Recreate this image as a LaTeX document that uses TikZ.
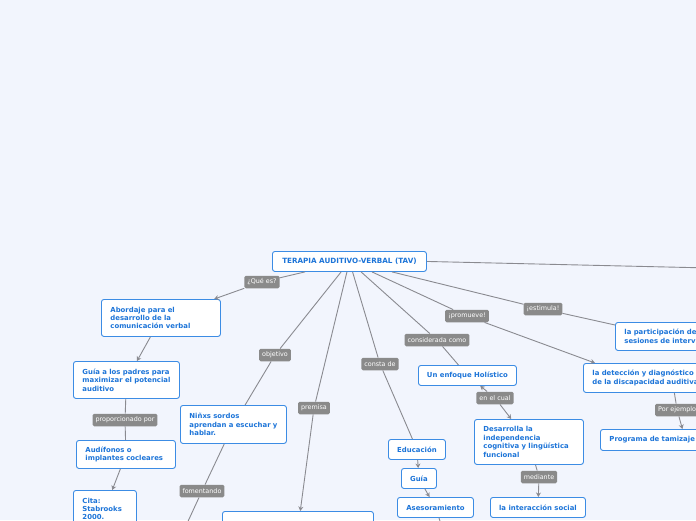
\documentclass[tikz,border=0pt]{standalone}
\usepackage{fontspec}
\usetikzlibrary{arrows.meta}
\newfontfamily\dvs{DejaVu Sans}
\definecolor{bgc}{RGB}{242,245,253}
\definecolor{nodeb}{RGB}{60,140,228}
\definecolor{nodet}{RGB}{28,116,216}
\definecolor{labg}{RGB}{138,138,138}
\definecolor{lineg}{RGB}{138,138,144}
\newcommand\nodefont{\dvs\bfseries\fontsize{6.9}{8.4}\selectfont\hyphenpenalty=10000\exhyphenpenalty=10000}
\newcommand\labfont{\dvs\fontsize{6.4}{7.5}\selectfont}
\tikzset{
  box/.style={draw=nodeb, fill=white, rounded corners=2.5pt, line width=0.9pt, text=nodet, font=\nodefont, anchor=north west, inner sep=0pt},
  lbox/.style={box, align=left},
  cbox/.style={box, align=center},
  lab/.style={fill=labg, text=white, rounded corners=1.5pt, font=\labfont, inner xsep=3pt, inner ysep=0pt, minimum height=12.5pt},
  con/.style={draw=lineg, line width=0.9pt},
  arr/.style={con, -{Stealth[length=4.5pt,width=5pt]}},
}
\begin{document}
\begin{tikzpicture}[x=1pt,y=-1pt]
\path[use as bounding box, fill=bgc] (0,0) rectangle (696,520);
\clip (0,0) rectangle (696,520);

% main boxes
\node[cbox, minimum width=154pt, minimum height=20pt, font=\dvs\bfseries\fontsize{7.2}{8.4}\selectfont] (tav) at (272,251) {TERAPIA AUDITIVO-VERBAL (TAV)};
\node[lbox, minimum width=119pt, minimum height=37pt, text width=101pt] (abord) at (101,299) {\mbox{Abordaje para el}\\\mbox{desarrollo de la}\\\mbox{comunicación verbal}};
\node[lbox, minimum width=106pt, minimum height=37pt, text width=88pt] (padres) at (73,361) {\mbox{Guía a los padres para}\\\mbox{maximizar el potencial}\\auditivo};
\node[lbox, minimum width=99pt, minimum height=28pt, text width=81pt] (audif) at (76,440) {\mbox{Audífonos o}\\\mbox{implantes cocleares}};
\node[lbox, minimum width=63pt, minimum height=37pt, text width=45pt] (cita) at (73,490) {Cita:\\Stabrooks\\2000.};
\node[lbox, minimum width=106pt, minimum height=38pt, text width=88pt] (ninxs) at (180,405) {\mbox{Niñxs sordos}\\\mbox{aprendan a escuchar y}\\hablar.};
\node[box, minimum width=151pt, minimum height=34pt] (prem) at (222,511) {};
\node[cbox, minimum width=57pt, minimum height=20pt] (edu) at (388,439) {Educación};
\node[cbox, minimum width=35pt, minimum height=20pt] (guia) at (401,468) {Guía};
\node[cbox, minimum width=76pt, minimum height=20pt] (ases) at (397,497) {Asesoramiento};
\node[cbox, minimum width=98pt, minimum height=20pt] (hol) at (418,365) {Un enfoque Holístico};
\node[lbox, minimum width=109pt, minimum height=45pt, text width=91pt] (des) at (474,419) {\mbox{Desarrolla la}\\independencia\\\mbox{cognitiva y lingüística}\\funcional};
\node[cbox, minimum width=95pt, minimum height=20pt] (inter) at (490,497) {la interacción social};
\node[lbox, minimum width=170pt, minimum height=28pt, text width=152pt] (part) at (615,322) {\mbox{la participación de}\\\mbox{sesiones de interv}};
\node[lbox, minimum width=177pt, minimum height=29pt, text width=159pt] (det) at (583,363) {\mbox{la detección y diagnóstico}\\\mbox{de la discapacidad auditiva}};
\node[lbox, minimum width=170pt, minimum height=21pt, text width=152pt] (prog) at (600,429) {\mbox{Programa de tamizaje}};

% labels
\node[lab] (qes) at (262,282) {¿Qué es?};
\node[lab] (obj) at (275,355) {objetivo};
\node[lab] (premL) at (314,408) {premisa};
\node[lab] (consta) at (380,364) {consta de};
\node[lab] (consid) at (437,340) {considerada como};
\node[lab] (prom) at (467,316) {¡promueve!};
\node[lab] (estim) at (543,309) {¡estimula!};
\node[lab] (encual) at (495,398) {en el cual};
\node[lab] (mediante) at (539,477) {mediante};
\node[lab, anchor=west] (porej) at (655,410) {Por ejemplo};
\node[lab] (prop) at (125,420) {proporcionado por};
\node[lab] (foment) at (202,491) {fomentando};

% free ends
\coordinate (fomEnd) at (184,530);
\coordinate (asesEnd) at (443,530);
\coordinate (rightEnd) at (710,268);

% connectors
\draw[con] (tav) -- (qes); \draw[arr] (qes) -- (abord);
\draw[arr] (abord) -- (padres);
\draw[con] (padres) -- (prop); \draw[con] (prop) -- (audif);
\draw[arr] (audif) -- (cita);
\draw[con] (tav) -- (obj); \draw[con] (obj) -- (ninxs);
\draw[con] (ninxs) -- (foment); \draw[con] (foment) -- (fomEnd);
\draw[con] (tav) -- (premL); \draw[arr] (premL) -- (prem);
\draw[con] (tav) -- (consta); \draw[con] (consta) -- (edu);
\draw[arr] (edu) -- (guia); \draw[arr] (guia) -- (ases); \draw[con] (ases) -- (asesEnd);
\draw[con] (tav) -- (consid); \draw[con] (consid) -- (hol);
\draw[arr] (encual) -- (hol); \draw[arr] (encual) -- (des);
\draw[con] (des) -- (mediante); \draw[arr] (mediante) -- (inter);
\draw[con] (tav) -- (prom); \draw[arr] (prom) -- ([xshift=12pt]det.north west);
\draw[con] (tav) -- (estim); \draw[con] (estim) -- ([yshift=-3pt]part.north west);
\draw[con] (tav.east) -- (rightEnd);
\draw[con] (det) -- (porej); \draw[arr] (porej) -- (prog);
\end{tikzpicture}
\end{document}
